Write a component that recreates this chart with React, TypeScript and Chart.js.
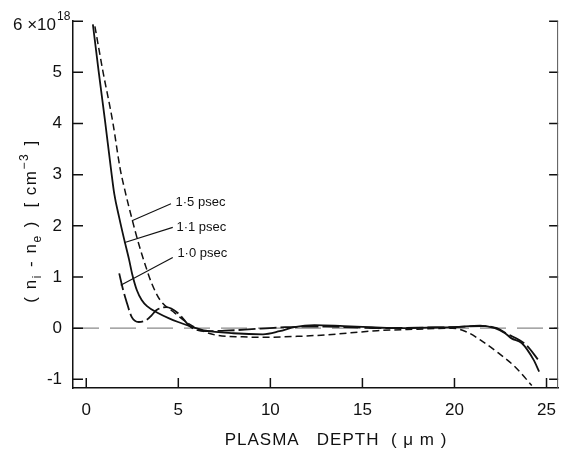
import React, { useEffect, useRef } from "react";
import { Chart, registerables } from "chart.js";

Chart.register(...registerables);

// Values in units of 1e18 cm^-3, x in micrometres
const solidX = [0.36, 0.67, 1.02, 1.34, 1.52, 1.79, 2.05, 2.32, 2.5, 2.75, 3.01, 3.3, 3.92, 4.5, 4.99, 5.79, 6.5, 8.0, 9.6, 10.5, 11.3, 12.4, 14, 15.5, 17, 18.5, 20, 21.4, 22.2, 22.75, 23.1, 23.65, 24.3, 24.6];
const solidY = [5.94, 5.03, 4.05, 3.12, 2.63, 2.16, 1.75, 1.35, 1.05, 0.74, 0.55, 0.43, 0.29, 0.19, 0.12, 0.02, -0.05, -0.1, -0.12, -0.06, 0.02, 0.06, 0.04, 0.02, 0.0, 0.01, 0.02, 0.05, 0.0, -0.1, -0.2, -0.29, -0.62, -0.85];

const shortX = [0.47, 0.9, 1.43, 1.84, 2.14, 2.48, 2.84, 3.21, 3.55, 4.01, 4.83, 5.5, 5.87, 6.5, 7.1, 8.5, 9.6, 11.5, 13.1, 15.8, 18, 19.9, 20.7, 21.4, 22.4, 23.3, 24.2];
const shortY = [5.9, 5.03, 4.05, 3.12, 2.63, 2.14, 1.66, 1.23, 0.88, 0.55, 0.29, 0.1, 0.02, -0.08, -0.14, -0.17, -0.18, -0.16, -0.13, -0.05, -0.02, 0.0, -0.08, -0.23, -0.49, -0.76, -1.12];

const longX = [1.79, 2.0, 2.16, 2.48, 2.85, 3.28, 3.55, 3.8, 4.35, 4.99, 5.68, 6.5, 7.5, 8.6, 10.8, 13, 16, 18, 20, 21.5, 22.3, 22.8, 23.9, 24.55];
const longY = [1.07, 0.75, 0.55, 0.21, 0.12, 0.16, 0.25, 0.35, 0.41, 0.29, 0.02, -0.06, -0.05, -0.03, 0.02, 0.03, 0.0, 0.01, 0.02, 0.04, 0.0, -0.1, -0.33, -0.62];

const xTicks = [0, 5, 10, 15, 20, 25];
const yTicks = [-1, 0, 1, 2, 3, 4, 5, 6];

// annotation labels: text anchor (data), leader line from/to (data)
const annoLabels = ["1·5 psec", "1·1 psec", "1·0 psec"];
const annoTextX = [4.85, 4.9, 4.95];
const annoTextY = [2.46, 1.97, 1.46];
const annoFromX = [2.48, 2.05, 1.87];
const annoFromY = [2.1, 1.67, 0.84];
const annoToX = [4.6, 4.7, 4.7];
const annoToY = [2.43, 1.97, 1.38];

const FONT = "'Liberation Sans', Arial, sans-serif";

const toPts = (xs: number[], ys: number[]) => xs.map((x, i) => ({ x, y: ys[i] }));

const decor = {
  id: "decor",
  beforeDatasetsDraw(chart: any) {
    const { ctx, chartArea, scales } = chart;
    const y0 = scales.y.getPixelForValue(0);
    ctx.save();
    ctx.strokeStyle = "#8a8a8a";
    ctx.lineWidth = 1.2;
    ctx.setLineDash([26, 11]);
    ctx.beginPath();
    ctx.moveTo(chartArea.left, y0);
    ctx.lineTo(chartArea.right, y0);
    ctx.stroke();
    ctx.restore();
  },
  afterDraw(chart: any) {
    const { ctx, chartArea, scales } = chart;
    const { left, right, bottom } = chartArea;
    ctx.save();
    ctx.strokeStyle = "#111";
    ctx.lineWidth = 1.5;
    yTicks.forEach((v) => {
      const p = scales.y.getPixelForValue(v);
      ctx.beginPath();
      ctx.moveTo(left, p);
      ctx.lineTo(left + 10, p);
      ctx.moveTo(right, p);
      ctx.lineTo(right - 9, p);
      ctx.stroke();
    });
    xTicks.forEach((v) => {
      const p = scales.x.getPixelForValue(v);
      ctx.beginPath();
      ctx.moveTo(p, bottom);
      ctx.lineTo(p, bottom - 10);
      ctx.stroke();
    });
    ctx.lineWidth = 1;
    ctx.strokeStyle = "#555";
    ctx.beginPath();
    ctx.moveTo(right - 0.5, scales.y.getPixelForValue(6));
    ctx.lineTo(right - 0.5, bottom);
    ctx.stroke();

    ctx.fillStyle = "#111";
    ctx.textBaseline = "alphabetic";
    const p6 = scales.y.getPixelForValue(6);
    ctx.font = `17px ${FONT}`;
    ctx.textAlign = "left";
    let tx = 13;
    ctx.fillText("6 ×10", tx, p6 + 9);
    tx += ctx.measureText("6 ×10").width + 1;
    ctx.font = `12px ${FONT}`;
    ctx.fillText("18", tx, p6 - 1);

    ctx.font = `17px ${FONT}`;
    ctx.textAlign = "left";
    (ctx as any).letterSpacing = "1px";
    const xt = "PLASMA   DEPTH  ( μ m )";
    const w = ctx.measureText(xt).width;
    ctx.fillText(xt, 336 - w / 2, 445);

    ctx.save();
    ctx.translate(36, 221);
    ctx.rotate(-Math.PI / 2);
    (ctx as any).letterSpacing = "1.5px";
    const parts: [string, string][] = [
      ["( n", "n"], ["i", "sub"], [" - n", "n"], ["e", "sub"], [" )  [ cm", "n"], ["−3", "sup"], [" ]", "n"],
    ];
    const big = `17px ${FONT}`;
    const small = `12px ${FONT}`;
    let total = 0;
    parts.forEach(([t, k]) => {
      ctx.font = k === "n" ? big : small;
      total += ctx.measureText(t).width + (k === "n" ? 0 : 1);
    });
    let px = -total / 2;
    parts.forEach(([t, k]) => {
      ctx.font = k === "n" ? big : small;
      const dy = k === "sub" ? 5 : k === "sup" ? -8 : 0;
      ctx.fillText(t, px, dy);
      px += ctx.measureText(t).width + (k === "n" ? 0 : 1);
    });
    ctx.restore();
    (ctx as any).letterSpacing = "0px";

    ctx.font = `13px ${FONT}`;
    ctx.textAlign = "left";
    ctx.textBaseline = "middle";
    ctx.strokeStyle = "#111";
    ctx.lineWidth = 1.1;
    annoLabels.forEach((label, i) => {
      const lx = scales.x.getPixelForValue(annoTextX[i]);
      const ly = scales.y.getPixelForValue(annoTextY[i]);
      ctx.fillText(label, lx, ly);
      ctx.beginPath();
      ctx.moveTo(scales.x.getPixelForValue(annoFromX[i]), scales.y.getPixelForValue(annoFromY[i]));
      ctx.lineTo(scales.x.getPixelForValue(annoToX[i]), scales.y.getPixelForValue(annoToY[i]));
      ctx.stroke();
    });
    ctx.restore();
  },
};

export default function App() {
  const ref = useRef<HTMLCanvasElement | null>(null);
  useEffect(() => {
    if (!ref.current) return;
    const common = {
      borderColor: "#111",
      pointRadius: 0,
      fill: false,
      showLine: true,
      cubicInterpolationMode: "monotone" as const,
    };
    const chart = new Chart(ref.current, {
      type: "scatter",
      data: {
        datasets: [
          { ...common, label: "1.5 psec", data: toPts(shortX, shortY), borderWidth: 1.5, borderDash: [7, 4] },
          { ...common, label: "1.1 psec", data: toPts(solidX, solidY), borderWidth: 1.8 },
          { ...common, label: "1.0 psec", data: toPts(longX, longY), borderWidth: 1.8, borderDash: [17, 4] },
        ],
      },
      options: {
        animation: false,
        responsive: false,
        devicePixelRatio: 1,
        layout: { padding: { top: 20, right: 1, left: 0, bottom: 0 } },
        plugins: { legend: { display: false }, tooltip: { enabled: false } },
        scales: {
          x: {
            type: "linear",
            min: -0.72,
            max: 25.63,
            grid: { display: false, drawTicks: false },
            border: { display: true, color: "#111", width: 1.5 },
            afterBuildTicks: (s: any) => { s.ticks = xTicks.map((v) => ({ value: v })); },
            afterFit: (s: any) => { s.height = 62; },
            ticks: { color: "#111", padding: 12, font: { family: FONT, size: 17 }, maxRotation: 0, callback: (v: any) => String(v) },
          },
          y: {
            type: "linear",
            min: -1.17,
            max: 6,
            grid: { display: false, drawTicks: false },
            border: { display: true, color: "#111", width: 1.5 },
            afterBuildTicks: (s: any) => { s.ticks = yTicks.map((v) => ({ value: v })); },
            afterFit: (s: any) => { s.width = 73; },
            ticks: { color: "#111", padding: 11, font: { family: FONT, size: 17 }, callback: (v: any) => (v === 6 ? "" : String(v)) },
          },
        },
      },
      plugins: [decor],
    });
    return () => chart.destroy();
  }, []);
  return (
    <div style={{ position: "fixed", left: 0, top: 0, width: 568, height: 450, background: "#fff" }}>
      <canvas ref={ref} width={568} height={450} style={{ width: 568, height: 450 }} />
    </div>
  );
}
